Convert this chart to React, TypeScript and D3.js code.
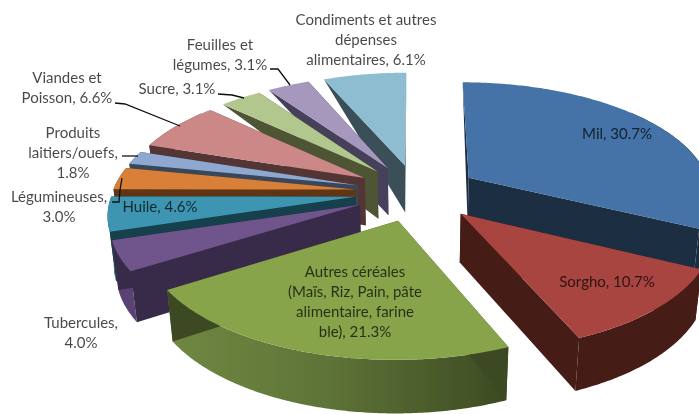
import React, { useEffect, useRef } from "react";
import * as d3 from "d3";

const categories = ["Mil", "Sorgho", "Autres céréales", "Tubercules", "Huile", "Légumineuses", "Produits laitiers", "Viandes et Poisson", "Sucre", "Feuilles et légumes", "Condiments"];
const shares = [30.7, 10.7, 21.3, 4.0, 4.6, 3.0, 1.8, 6.6, 3.1, 3.1, 6.1];
const topColors = ["#4472a7", "#a94441", "#88a44c", "#70558d", "#3e95b1", "#d98039", "#8ea8d0", "#cc8886", "#b2c78e", "#a697bd", "#8ebdd2"];
const wallColors = ["#1b2d43", "#441b18", "#3d4a22", "#392b48", "#183f4b", "#5f3514", "#39465a", "#523636", "#4d5436", "#46405a", "#3a4f59"];
const rimColors = ["#1b2d43", "#441b18", "url(#autresWall)", "#5a4375", "#183f4b", "#5f3514", "#39465a", "#523636", "#4d5436", "#46405a", "#3a4f59"];
// back slices first, the ones nearest the viewer last
const drawOrder = [10, 9, 8, 7, 6, 5, 4, 3, 0, 1, 2];

// [text lines, centre x, first baseline y]
const labels: [string[], number, number][] = [
  [["Condiments et autres", "dépenses", "alimentaires, 6.1%"], 366, 25],
  [["Feuilles et", "légumes, 3.1%"], 220, 50],
  [["Sucre, 3.1%"], 177, 94],
  [["Viandes et", "Poisson, 6.6%"], 67, 83],
  [["Produits", "laitiers/ouefs,", "1.8%"], 73, 138],
  [["Légumineuses,", "3.0%"], 59, 202],
  [["Huile, 4.6%"], 160, 212],
  [["Tubercules,", "4.0%"], 81, 328],
  [["Autres céréales", "(Maïs, Riz, Pain, pâte", "alimentaire, farine", "ble), 21.3%"], 355, 277],
  [["Mil, 30.7%"], 617, 139],
  [["Sorgho, 10.7%"], 607, 287],
];
const leaders: [number, number][][] = [
  [[270, 69], [278, 69], [290, 85]],
  [[218, 94], [232, 95], [244, 98]],
  [[115, 103], [125, 104], [180, 126]],
  [[122, 156], [138, 156]],
  [[112, 202], [119, 202], [120, 190], [122, 178]],
];

const W = 699;
const H = 414;
const cx = 417;
const cy = 192.5;
const Rx = 243;
const Ry = 112;
const depth = 49;
const persp = 0.135;
const shrink = 0.02;
const explode = 0.255;

function project(X: number, Y: number, Z: number): [number, number] {
  const w = 1 - persp * Y + shrink * Z;
  return [cx + (Rx * X) / w, cy + (Ry * Y + depth * Z) / w];
}

// the walls fade out toward the back of the pie, as in the original render
const wallDepth = d3.scaleLinear().domain([0.3, 0.65]).range([1, 0]).clamp(true);

export default function App() {
  const ref = useRef<SVGSVGElement>(null);

  useEffect(() => {
    const svg = d3.select(ref.current);
    svg.selectAll("*").remove();

    const defs = svg.append("defs");
    const grad = defs.append("linearGradient").attr("id", "autresWall");
    grad.append("stop").attr("offset", "0%").attr("stop-color", "#708842");
    grad.append("stop").attr("offset", "45%").attr("stop-color", "#5f7538");
    grad.append("stop").attr("offset", "100%").attr("stop-color", "#3d4a22");
    // the reference is a slightly soft raster
    defs.append("filter").attr("id", "soft").append("feGaussianBlur").attr("stdDeviation", 0.45);

    const root = svg.append("g").attr("filter", "url(#soft)");
    const slices = d3.pie<number>().sort(null).value((d) => d)(shares);
    const line = d3.line();

    drawOrder.forEach((i) => {
      const s = slices[i];
      const mid = (s.startAngle + s.endAngle) / 2;
      const ox = explode * Math.sin(mid);
      const oy = -explode * Math.cos(mid);
      const pt = (a: number, r: number, z: number) =>
        project(ox + r * Math.sin(a), oy - r * Math.cos(a), z);
      const angles = d3.range(s.startAngle, s.endAngle, 0.01).concat(s.endAngle);
      const zAt = (a: number) => wallDepth(Math.cos(a));
      const g = root.append("g").attr("class", "slice").attr("data-name", categories[i]);

      const rim = [...angles.map((a) => pt(a, 1, 0)), ...angles.slice().reverse().map((a) => pt(a, 1, zAt(a)))];
      g.append("path").attr("d", line(rim) + "Z").attr("fill", rimColors[i]);
      [s.startAngle, s.endAngle].forEach((a) => {
        const wall = [pt(0, 0, 0), pt(a, 1, 0), pt(a, 1, zAt(a)), pt(0, 0, 1)];
        g.append("path").attr("d", line(wall) + "Z").attr("fill", wallColors[i]);
      });
      g.append("path")
        .attr("d", line([pt(0, 0, 0), ...angles.map((a) => pt(a, 1, 0))]) + "Z")
        .attr("fill", topColors[i]);
    });

    leaders.forEach((l) => {
      root.append("path").attr("d", line(l)).attr("fill", "none").attr("stroke", "#111").attr("stroke-width", 1.3);
    });

    labels.forEach(([lines, x, y]) => {
      const t = root.append("text")
        .attr("text-anchor", "middle")
        .attr("font-family", "Lato, 'Open Sans', sans-serif")
        .attr("font-size", 15)
        .attr("fill", "#000")
        .attr("fill-opacity", 0.72);
      lines.forEach((txt, k) => {
        t.append("tspan").attr("x", x).attr("y", y + k * 20).text(txt);
      });
    });
  }, []);

  return (
    <svg
      ref={ref}
      width={W}
      height={H}
      style={{ position: "absolute", left: 0, top: 0, background: "#fff" }}
    />
  );
}
